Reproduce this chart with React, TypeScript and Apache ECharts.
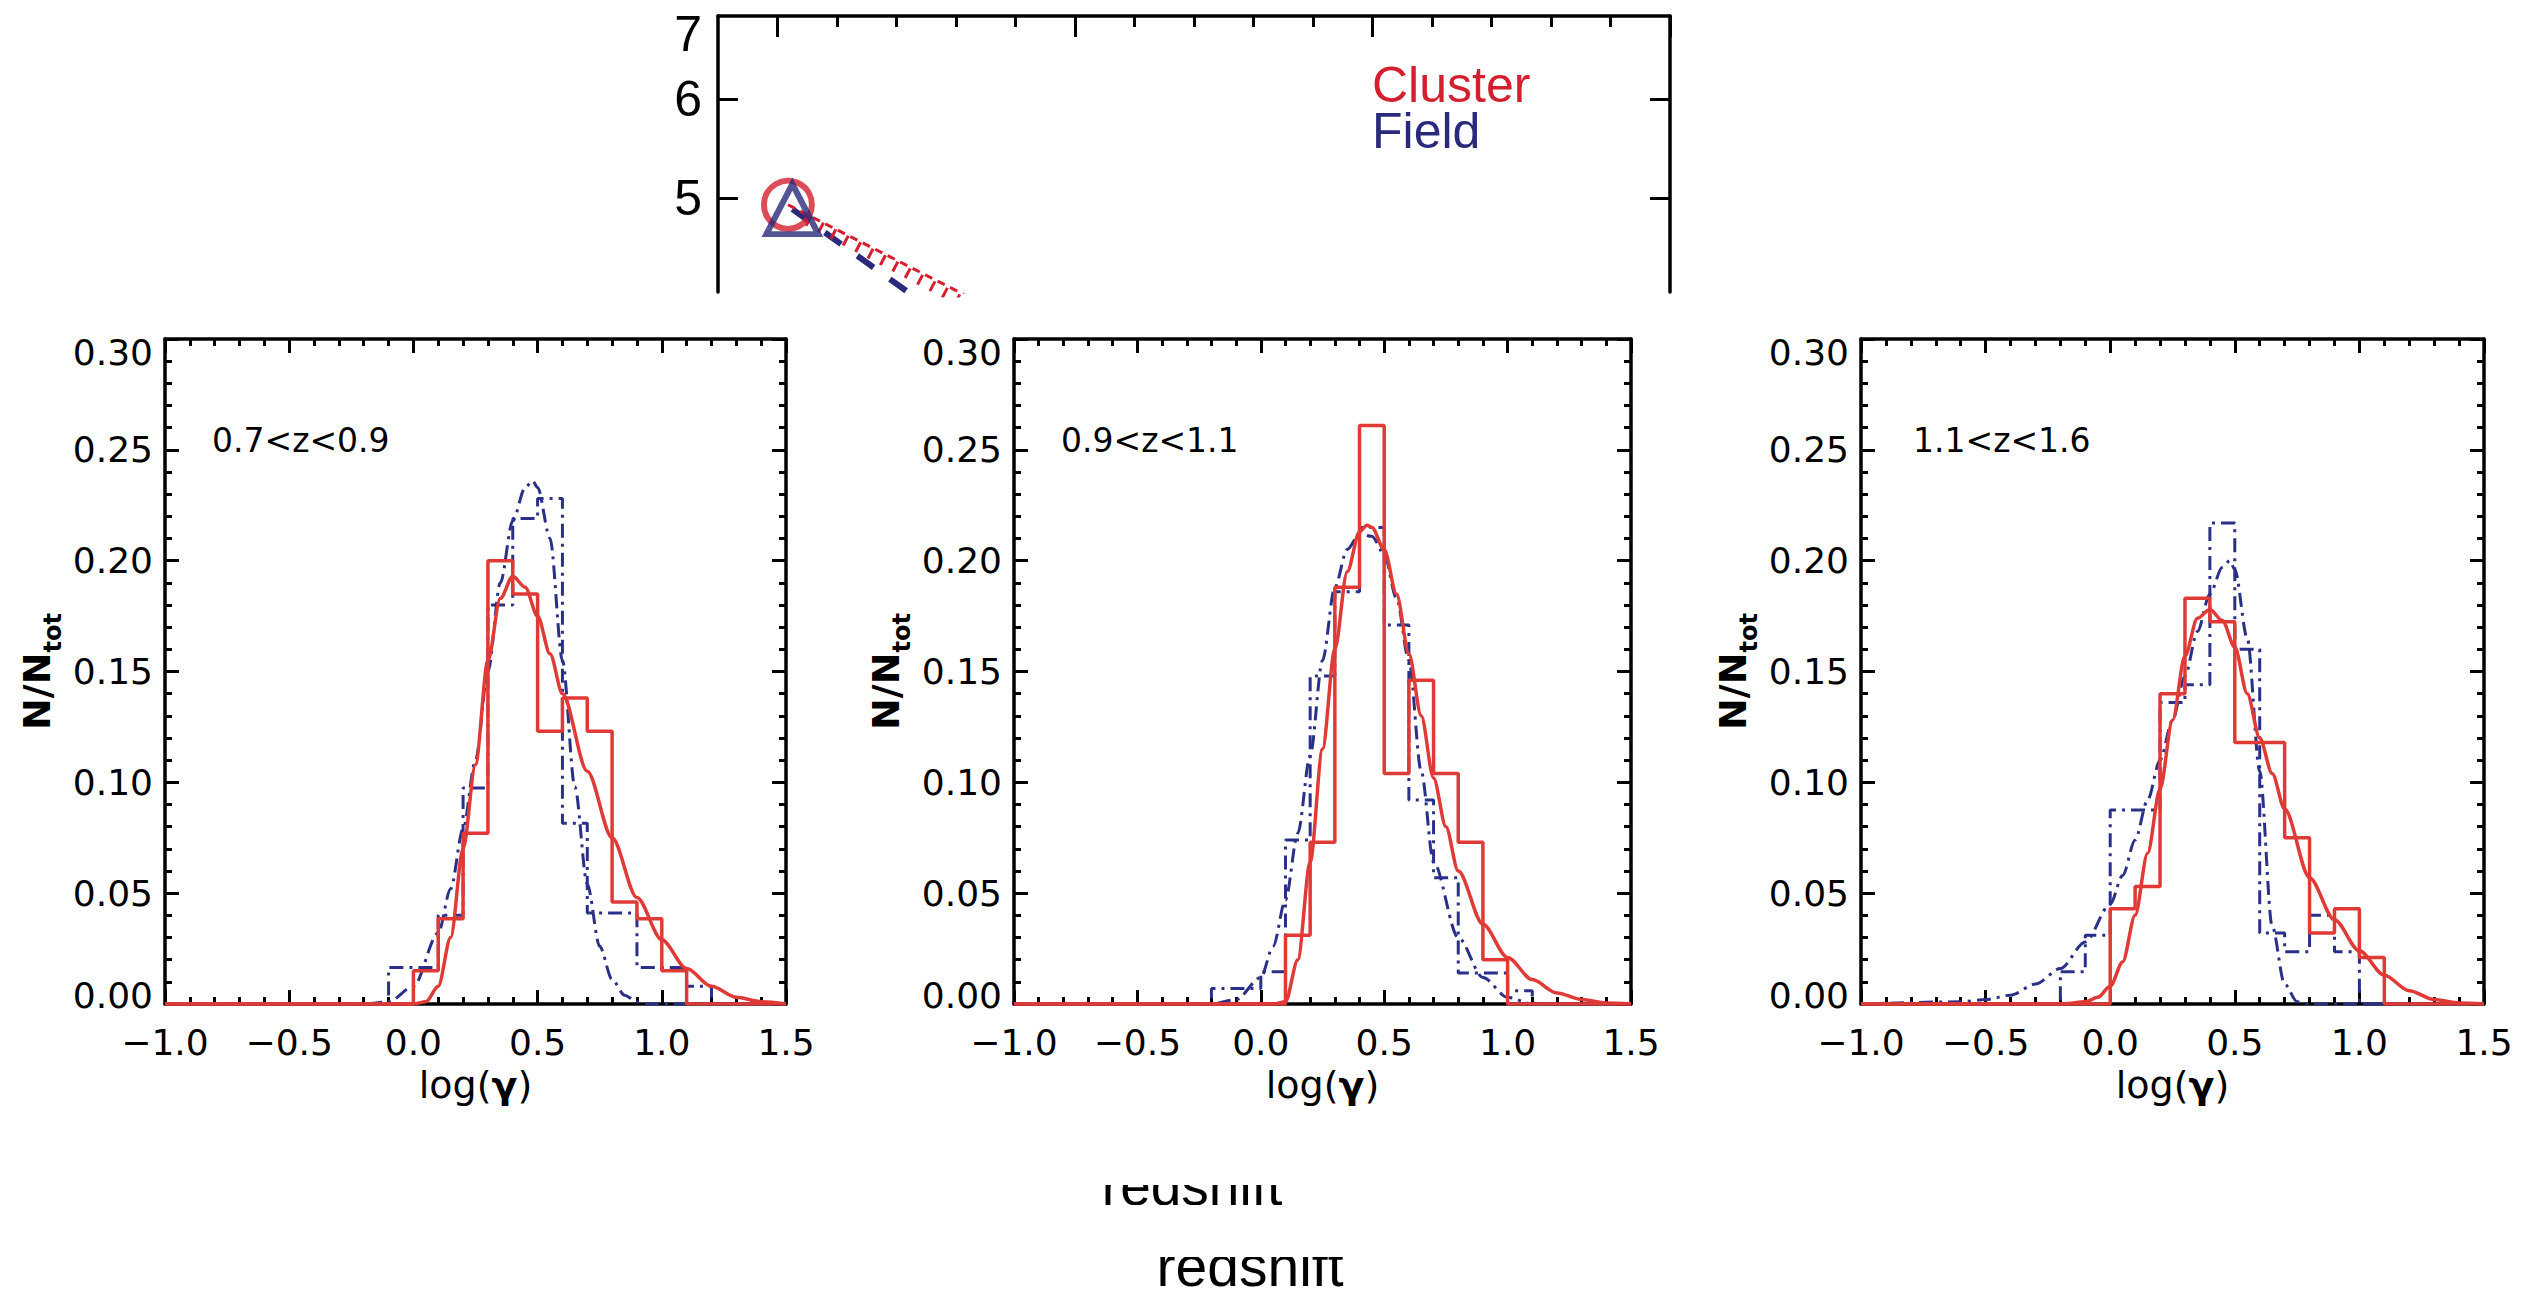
import React, { useEffect, useRef } from "react";
import * as echarts from "echarts";

// ---------- data ----------
// log(gamma) histogram bins: left edges, width 0.1
const BIN_LEFT = [-0.2, -0.1, 0.0, 0.1, 0.2, 0.3, 0.4, 0.5, 0.6, 0.7, 0.8, 0.9, 1.0, 1.1];
const BIN_WIDTH = 0.1;

const PANEL_LABELS = ["0.7<z<0.9", "0.9<z<1.1", "1.1<z<1.6"];

// N/Ntot per bin
const CLUSTER_HIST_1 = [0, 0, 0.015, 0.0385, 0.077, 0.2, 0.185, 0.123, 0.138, 0.123, 0.046, 0.0385, 0.015, 0];
const FIELD_HIST_1 = [0, 0.0165, 0.0165, 0.04, 0.0975, 0.18, 0.219, 0.228, 0.0815, 0.041, 0.041, 0.0165, 0.0165, 0.008];
const CLUSTER_HIST_2 = [0, 0, 0, 0.031, 0.073, 0.188, 0.261, 0.104, 0.146, 0.104, 0.073, 0.02, 0, 0];
const FIELD_HIST_2 = [0.007, 0.007, 0.0146, 0.074, 0.148, 0.186, 0.215, 0.171, 0.092, 0.057, 0.014, 0.014, 0.006, 0];
const CLUSTER_HIST_3 = [0, 0, 0.043, 0.053, 0.14, 0.183, 0.1725, 0.118, 0.118, 0.075, 0.032, 0.043, 0.021, 0];
const FIELD_HIST_3 = [0.0146, 0.031, 0.0875, 0.0875, 0.136, 0.144, 0.217, 0.16, 0.032, 0.0236, 0.04, 0.0236, 0, 0];

// fitted distributions, [log(gamma), N/Ntot]
const CLUSTER_FIT_1 = [
  [-1.0, 0], [0.0, 0], [0.05, 0.001], [0.1, 0.008], [0.15, 0.03], [0.2, 0.07], [0.25, 0.108],
  [0.3, 0.155], [0.35, 0.183], [0.4, 0.193], [0.45, 0.188], [0.5, 0.175], [0.55, 0.158],
  [0.6, 0.14], [0.7, 0.105], [0.8, 0.075], [0.9, 0.048], [1.0, 0.029], [1.1, 0.016],
  [1.2, 0.008], [1.3, 0.003], [1.4, 0.001], [1.5, 0],
];
const FIELD_FIT_1 = [
  [-1.0, 0], [-0.2, 0], [-0.1, 0.001], [0.0, 0.008], [0.1, 0.032], [0.15, 0.052], [0.2, 0.079],
  [0.25, 0.11], [0.3, 0.15], [0.35, 0.19], [0.4, 0.218], [0.45, 0.233], [0.48, 0.236],
  [0.5, 0.233], [0.55, 0.21], [0.6, 0.155], [0.65, 0.098], [0.7, 0.054], [0.75, 0.026],
  [0.8, 0.011], [0.85, 0.004], [0.9, 0.001], [0.95, 0], [1.5, 0],
];
const CLUSTER_FIT_2 = [
  [-1.0, 0], [0.05, 0], [0.1, 0.001], [0.15, 0.02], [0.2, 0.064], [0.25, 0.115], [0.3, 0.16],
  [0.35, 0.195], [0.4, 0.213], [0.43, 0.216], [0.45, 0.215], [0.5, 0.205], [0.55, 0.185],
  [0.6, 0.158], [0.65, 0.13], [0.7, 0.102], [0.75, 0.08], [0.8, 0.06], [0.9, 0.036],
  [1.0, 0.021], [1.1, 0.011], [1.2, 0.005], [1.3, 0.002], [1.4, 0.0005], [1.5, 0],
];
const FIELD_FIT_2 = [
  [-1.0, 0], [-0.2, 0], [-0.1, 0.002], [0.0, 0.012], [0.05, 0.026], [0.1, 0.047], [0.15, 0.077],
  [0.2, 0.112], [0.25, 0.155], [0.3, 0.188], [0.35, 0.205], [0.4, 0.212], [0.45, 0.211],
  [0.5, 0.203], [0.55, 0.183], [0.6, 0.155], [0.65, 0.105], [0.7, 0.064], [0.8, 0.03],
  [0.9, 0.012], [1.0, 0.003], [1.1, 0], [1.5, 0],
];
const CLUSTER_FIT_3 = [
  [-1.0, 0], [-0.2, 0], [-0.1, 0.001], [-0.05, 0.003], [0.0, 0.008], [0.05, 0.019], [0.1, 0.04],
  [0.15, 0.068], [0.2, 0.097], [0.25, 0.128], [0.3, 0.157], [0.35, 0.174], [0.4, 0.178],
  [0.45, 0.173], [0.5, 0.161], [0.55, 0.14], [0.6, 0.12], [0.65, 0.104], [0.7, 0.088],
  [0.8, 0.057], [0.9, 0.038], [1.0, 0.024], [1.1, 0.013], [1.2, 0.006], [1.3, 0.002],
  [1.4, 0.0005], [1.5, 0],
];
const FIELD_FIT_3 = [
  [-1.0, 0], [-0.6, 0.001], [-0.5, 0.002], [-0.4, 0.004], [-0.3, 0.009], [-0.2, 0.016],
  [-0.1, 0.028], [0.0, 0.045], [0.05, 0.058], [0.1, 0.074], [0.15, 0.092], [0.2, 0.11],
  [0.25, 0.128], [0.3, 0.148], [0.35, 0.168], [0.4, 0.185], [0.45, 0.197], [0.48, 0.2],
  [0.5, 0.196], [0.55, 0.165], [0.6, 0.105], [0.65, 0.035], [0.7, 0.009], [0.75, 0.001],
  [0.8, 0], [1.5, 0],
];

// upper panel: mean gamma versus redshift
const Z_MAJOR_TICKS = [0.8, 1.0, 1.2, 1.4];
const Z_MINOR_TICKS = [0.84, 0.88, 0.92, 0.96, 1.04, 1.08, 1.12, 1.16, 1.24, 1.28, 1.32, 1.36];
const GAMMA_LABEL_TICKS = [5, 6, 7];
const GAMMA_TICKS = [5, 6];
const CLUSTER_POINT = [[0.807, 4.94]];
const FIELD_POINT = [[0.81, 4.9]];
const CLUSTER_TREND = [[0.807, 4.94], [1.0, 3.77]];
const CLUSTER_HATCH = [[0.82, 4.8], [1.0, 3.7]];
const FIELD_TREND = [[0.81, 4.9], [1.0, 3.37]];

// ---------- styling / layout ----------
const RED = "#e03a36";
const NAVY = "#2a3088";
const LEGEND_RED = "#d4202e";
const LEGEND_NAVY = "#2a2a7c";
const FONT = "'DejaVu Sans', sans-serif";
const TOP_FONT = "'Liberation Sans', Arial, sans-serif";

const PANEL_LEFT = [165, 1014, 1861];
const PANEL_WIDTH = [621, 617, 623];
const PANEL_TOP = 339;
const PANEL_HEIGHT = 665;

const DASH_DOT = [14, 6, 3, 6];

function stepData(values: number[]) {
  const pts: number[][] = [[-1, 0]];
  values.forEach((v, i) => pts.push([BIN_LEFT[i], v]));
  pts.push([BIN_LEFT[BIN_LEFT.length - 1] + BIN_WIDTH, 0]);
  pts.push([1.5, 0]);
  return pts;
}

function fmtX(v: number) {
  const s = Math.abs(v).toFixed(1);
  return v < -1e-9 ? "\u2212" + s : s;
}

export default function App() {
  const ref = useRef<HTMLDivElement>(null);

  useEffect(() => {
    document.body.style.margin = "0";
    document.body.style.overflow = "hidden";
    if (!ref.current) return;
    const chart = echarts.init(ref.current, undefined, { renderer: "svg" });

    const grids: any[] = [{ left: 718, top: 16, width: 952, height: 276 }];
    PANEL_LEFT.forEach((l, k) =>
      grids.push({ left: l, top: PANEL_TOP, width: PANEL_WIDTH[k], height: PANEL_HEIGHT })
    );

    const lineBlack = { show: true, onZero: false, lineStyle: { color: "#000", width: 3.5 } };

    const xAxes: any[] = [
      {
        gridIndex: 0, type: "value", position: "top", min: 0.76, max: 1.4,
        axisLine: lineBlack, splitLine: { show: false }, axisLabel: { show: false },
        axisTick: { show: true, inside: true, length: 21, customValues: Z_MAJOR_TICKS, lineStyle: { color: "#000", width: 3 } },
      },
      {
        gridIndex: 0, type: "value", position: "top", min: 0.76, max: 1.4,
        axisLine: { show: false, onZero: false }, splitLine: { show: false }, axisLabel: { show: false },
        axisTick: { show: true, inside: true, length: 11, customValues: Z_MINOR_TICKS, lineStyle: { color: "#000", width: 3 } },
      },
    ];
    const yAxes: any[] = [
      {
        gridIndex: 0, type: "log", logBase: 10, position: "left", min: 4.205, max: 7,
        axisLine: lineBlack, splitLine: { show: false },
        axisTick: { show: true, inside: true, length: 20, customValues: GAMMA_TICKS, lineStyle: { color: "#000", width: 3 } },
        axisLabel: {
          show: true, margin: 16, customValues: GAMMA_LABEL_TICKS,
          formatter: (v: number) => {
            const s = String(Math.round(v));
            return Math.round(v) === 7 ? `{hi|${s}}` : `{n|${s}}`;
          },
          rich: {
            n: { fontSize: 50, fontFamily: TOP_FONT, color: "#000" },
            hi: { fontSize: 50, fontFamily: TOP_FONT, color: "#000", padding: [36, 0, 0, 0] },
          },
        },
      },
      {
        gridIndex: 0, type: "log", logBase: 10, position: "right", min: 4.205, max: 7,
        axisLine: lineBlack, splitLine: { show: false }, axisLabel: { show: false },
        axisTick: { show: true, inside: true, length: 20, customValues: GAMMA_TICKS, lineStyle: { color: "#000", width: 3 } },
      },
    ];

    const tickStyle = { color: "#000", width: 3 };
    PANEL_LEFT.forEach((_, k) => {
      const g = k + 1;
      xAxes.push({
        gridIndex: g, type: "value", position: "bottom", min: -1, max: 1.5, interval: 0.5,
        axisLine: lineBlack, splitLine: { show: false },
        axisTick: { show: true, inside: true, length: 14, lineStyle: tickStyle },
        minorTick: { show: true, splitNumber: 5, length: 7, lineStyle: tickStyle },
        axisLabel: { show: true, margin: 20, fontSize: 36, fontFamily: FONT, color: "#000", formatter: fmtX },
        name: "{a|log(}{g|\u03b3}{a|)}", nameLocation: "middle", nameGap: 62,
        nameTextStyle: {
          rich: {
            a: { fontSize: 38, fontFamily: FONT, color: "#000" },
            g: { fontSize: 38, fontFamily: FONT, fontWeight: "bold", color: "#000" },
          },
        },
      });
      xAxes.push({
        gridIndex: g, type: "value", position: "top", min: -1, max: 1.5, interval: 0.5,
        axisLine: lineBlack, splitLine: { show: false }, axisLabel: { show: false },
        axisTick: { show: true, inside: true, length: 14, lineStyle: tickStyle },
        minorTick: { show: true, splitNumber: 5, length: 7, lineStyle: tickStyle },
      });
      yAxes.push({
        gridIndex: g, type: "value", position: "left", min: 0, max: 0.3, interval: 0.05,
        axisLine: lineBlack, splitLine: { show: false },
        axisTick: { show: true, inside: true, length: 14, lineStyle: tickStyle },
        minorTick: { show: true, splitNumber: 5, length: 7, lineStyle: tickStyle },
        axisLabel: {
          show: true, margin: 12,
          formatter: (v: number) => {
            const s = v.toFixed(2);
            if (Math.abs(v - 0.3) < 1e-6) return `{hi|${s}}`;
            if (Math.abs(v) < 1e-6) return `{lo|${s}}`;
            return `{n|${s}}`;
          },
          rich: {
            n: { fontSize: 36, fontFamily: FONT, color: "#000" },
            hi: { fontSize: 36, fontFamily: FONT, color: "#000", padding: [26, 0, 0, 0] },
            lo: { fontSize: 36, fontFamily: FONT, color: "#000", padding: [0, 0, 18, 0] },
          },
        },
        name: "{n|N/N}{s|tot}", nameLocation: "middle", nameRotate: 90, nameGap: 100,
        nameTextStyle: {
          rich: {
            n: { fontSize: 38, fontFamily: FONT, fontWeight: "bold", color: "#000", verticalAlign: "bottom", padding: [0, 0, 9, 0] },
            s: { fontSize: 24, fontFamily: FONT, fontWeight: "bold", color: "#000", verticalAlign: "bottom" },
          },
        },
      });
      yAxes.push({
        gridIndex: g, type: "value", position: "right", min: 0, max: 0.3, interval: 0.05,
        axisLine: lineBlack, splitLine: { show: false }, axisLabel: { show: false },
        axisTick: { show: true, inside: true, length: 14, lineStyle: tickStyle },
        minorTick: { show: true, splitNumber: 5, length: 7, lineStyle: tickStyle },
      });
    });

    const panels = [
      { ch: CLUSTER_HIST_1, fh: FIELD_HIST_1, cf: CLUSTER_FIT_1, ff: FIELD_FIT_1 },
      { ch: CLUSTER_HIST_2, fh: FIELD_HIST_2, cf: CLUSTER_FIT_2, ff: FIELD_FIT_2 },
      { ch: CLUSTER_HIST_3, fh: FIELD_HIST_3, cf: CLUSTER_FIT_3, ff: FIELD_FIT_3 },
    ];

    const series: any[] = [
      {
        name: "Field trend", type: "line", xAxisIndex: 0, yAxisIndex: 0, data: FIELD_TREND,
        showSymbol: false, lineStyle: { color: LEGEND_NAVY, width: 6, type: [20, 20] }, z: 3,
      },
      {
        name: "Cluster trend", type: "line", xAxisIndex: 0, yAxisIndex: 0, data: CLUSTER_TREND,
        showSymbol: false, lineStyle: { color: LEGEND_RED, width: 3, type: [8, 6] }, z: 3,
      },
      {
        name: "Cluster hatch", type: "line", xAxisIndex: 0, yAxisIndex: 0, data: CLUSTER_HATCH,
        showSymbol: false, lineStyle: { color: LEGEND_RED, width: 11, type: [3, 11] }, z: 3,
      },
      {
        name: "Cluster", type: "scatter", xAxisIndex: 0, yAxisIndex: 0, data: CLUSTER_POINT,
        symbol: "circle", symbolSize: 48,
        itemStyle: { color: "rgba(0,0,0,0)", borderColor: LEGEND_RED, borderWidth: 6 }, z: 4,
      },
      {
        name: "Field", type: "scatter", xAxisIndex: 0, yAxisIndex: 0, data: FIELD_POINT,
        symbol: "triangle", symbolSize: [52, 50],
        itemStyle: { color: "rgba(0,0,0,0)", borderColor: LEGEND_NAVY, borderWidth: 6 }, z: 5,
      },
    ];

    panels.forEach((p, k) => {
      const xi = 2 + 2 * k;
      const yi = 2 + 2 * k;
      series.push(
        {
          type: "line", xAxisIndex: xi, yAxisIndex: yi, data: stepData(p.fh), step: "end",
          showSymbol: false, lineStyle: { color: NAVY, width: 3, type: DASH_DOT }, z: 3,
        },
        {
          type: "line", xAxisIndex: xi, yAxisIndex: yi, data: p.ff, smooth: 0.3, smoothMonotone: "x",
          showSymbol: false, lineStyle: { color: NAVY, width: 3, type: DASH_DOT }, z: 3,
        },
        {
          type: "line", xAxisIndex: xi, yAxisIndex: yi, data: stepData(p.ch), step: "end",
          showSymbol: false, lineStyle: { color: RED, width: 3.5 }, z: 4,
        },
        {
          type: "line", xAxisIndex: xi, yAxisIndex: yi, data: p.cf, smooth: 0.3, smoothMonotone: "x",
          showSymbol: false, lineStyle: { color: RED, width: 3.5 }, z: 4,
        }
      );
    });

    const graphic: any[] = [
      // sample key, one text block in two colours
      {
        type: "text", x: 1372, y: 62, z: 10,
        style: {
          text: "{c|Cluster}\n{f|Field}",
          textAlign: "left", textVerticalAlign: "top",
          rich: {
            c: { fill: LEGEND_RED, fontSize: 50, fontFamily: TOP_FONT, lineHeight: 46 },
            f: { fill: LEGEND_NAVY, fontSize: 50, fontFamily: TOP_FONT, lineHeight: 46 },
          },
        },
      },
    ];
    PANEL_LABELS.forEach((t, k) => {
      graphic.push({
        type: "text", x: PANEL_LEFT[k] + (k === 2 ? 52 : 47), y: 440, z: 10,
        style: { text: t, fill: "#000", font: `33px ${FONT}`, textAlign: "left", textVerticalAlign: "middle" },
      });
    });
    // two "redshift" captions partly hidden under white bands
    graphic.push(
      {
        type: "text", x: 1192, y: 1186, z: 10,
        style: { text: "redshift", fill: "#000", font: `55px ${TOP_FONT}`, textAlign: "center", textVerticalAlign: "middle" },
      },
      {
        type: "rect", z: 11, shape: { x: 1070, y: 1115, width: 250, height: 70 },
        style: { fill: "#fff" },
      },
      {
        type: "text", x: 1250, y: 1294, z: 10,
        style: { text: "redshift", fill: "#000", font: `57px ${TOP_FONT}`, textAlign: "center", textVerticalAlign: "bottom" },
      },
      {
        type: "rect", z: 11, shape: { x: 1130, y: 1205, width: 250, height: 52 },
        style: { fill: "#fff" },
      }
    );

    chart.setOption({
      animation: false,
      backgroundColor: "#fff",
      grid: grids,
      xAxis: xAxes,
      yAxis: yAxes,
      series,
      graphic,
    });

    return () => chart.dispose();
  }, []);

  return <div ref={ref} style={{ width: 2538, height: 1294 }} />;
}
